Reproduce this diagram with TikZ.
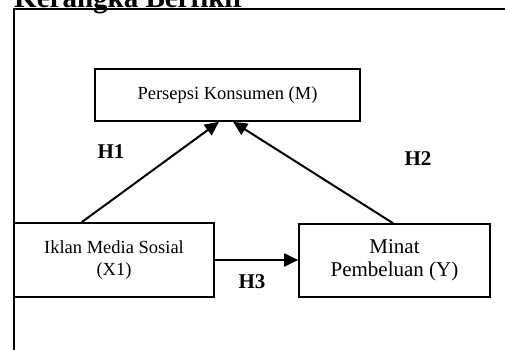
\documentclass[tikz,border=0pt]{standalone}
\usepackage{fontspec}
\setmainfont{Liberation Serif}
\usetikzlibrary{arrows.meta,calc}
\begin{document}
\begin{tikzpicture}[x=1pt,y=-1pt,
 box/.style={draw,line width=1.7pt,inner sep=0pt,align=center},
 conn/.style={line width=2pt,-{Triangle[length=14pt,width=13pt]}},
 hyp/.style={font=\fontsize{21}{24}\selectfont\bfseries,inner sep=0pt}]
\useasboundingbox (0,0) rectangle (505,350);
\clip (0,0) rectangle (505,350);
\node[anchor=base west,inner sep=0pt,font=\fontsize{29}{32}\selectfont\bfseries] (title) at (14,7.5) {Kerangka Berfikir};
\draw[line width=1.7pt] (14,360) -- (14,9) -- (520,9);
\node[box,minimum width=265pt,minimum height=52pt,font=\fontsize{18.5}{22}\selectfont] (m) at (227.5,95) {Persepsi Konsumen (M)};
\node[box,minimum width=200pt,minimum height=74pt,font=\fontsize{18.5}{22}\selectfont] (x) at (114,260) {Iklan Media Sosial\\(X1)};
\node[box,minimum width=191pt,minimum height=73pt,font=\fontsize{21}{23}\selectfont] (y) at (394.5,260.5) {Minat\\Pembeluan (Y)};
\draw[conn] ($(x.north west)!0.34!(x.north east)$) -- ($(m.south west)!0.468!(m.south east)$);
\draw[conn] ($(y.north west)!0.492!(y.north east)$) -- ($(m.south west)!0.521!(m.south east)$);
\draw[conn] (x.east) -- (x.east -| y.west);
\node[hyp] (h1) at (111,152) {H1};
\node[hyp] (h2) at (418,159) {H2};
\node[hyp] (h3) at (252,282) {H3};
\end{tikzpicture}
\end{document}
